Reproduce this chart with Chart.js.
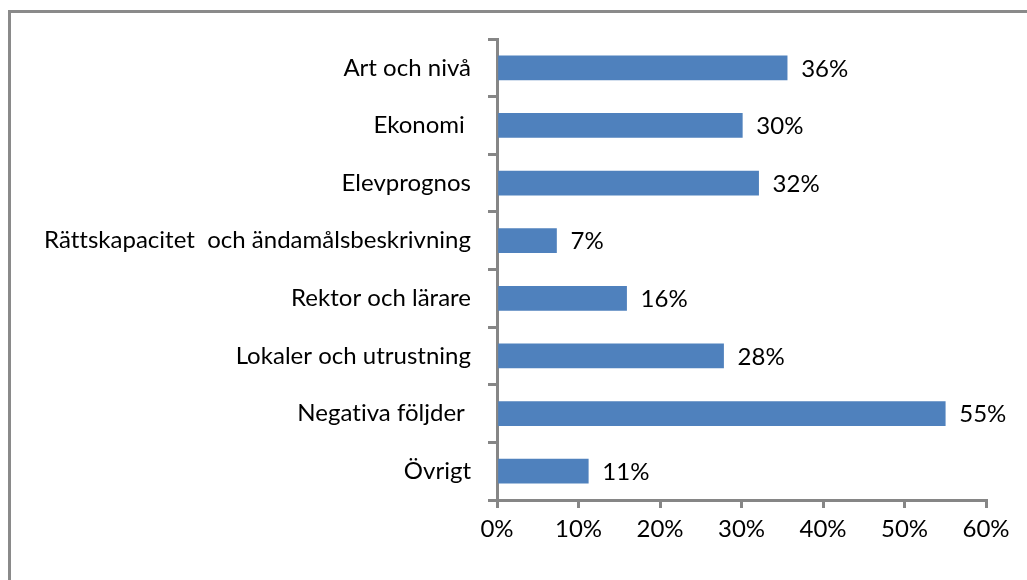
<!DOCTYPE html>
<html>
<head>
<meta charset="utf-8">
<script src="https://cdn.jsdelivr.net/npm/chart.js@4"></script>
<style>
  html, body { margin: 0; padding: 0; background: #fff; overflow: hidden; }
  #frame { position: absolute; left: 8px; top: 10px; width: 1100px; height: 700px;
           border-left: 3px solid #8a8a8a; border-top: 3px solid #8a8a8a; box-sizing: border-box; }
  #wrap { position: absolute; left: 0; top: 0; width: 1027px; height: 580px; }
</style>
</head>
<body>
<div id="frame"></div>
<div id="wrap"><canvas id="c" width="1027" height="580"></canvas></div>
<script>
const categories = [
  "Art och nivå",
  "Ekonomi ",
  "Elevprognos",
  "Rättskapacitet  och ändamålsbeskrivning",
  "Rektor och lärare",
  "Lokaler och utrustning",
  "Negativa följder ",
  "Övrigt"
];
const values = [35.6, 30.1, 32.1, 7.3, 15.9, 27.8, 55.0, 11.2];
const valueLabels = ["36%", "30%", "32%", "7%", "16%", "28%", "55%", "11%"];
const xTicks = [0, 10, 20, 30, 40, 50, 60];

const FONT = "Lato";
const FS = 24;
const AXIS = "#868686";

const noLigaturePlugin = {
  id: "noLig",
  beforeDraw(chart) { chart.ctx.letterSpacing = "0.01px"; }
};

const valueLabelPlugin = {
  id: "valueLabels",
  afterDatasetsDraw(chart) {
    const ctx = chart.ctx;
    const meta = chart.getDatasetMeta(0);
    ctx.save();
    ctx.font = FS + "px " + FONT;
    ctx.fillStyle = "#000";
    ctx.textAlign = "left";
    ctx.textBaseline = "middle";
    meta.data.forEach((bar, i) => {
      ctx.fillText(valueLabels[i], bar.x + 14, bar.y + 1);
    });
    ctx.restore();
  }
};

new Chart(document.getElementById("c"), {
  type: "bar",
  data: {
    labels: categories,
    datasets: [{
      data: values,
      backgroundColor: "#4f81bd",
      borderWidth: 0,
      barThickness: 24
    }]
  },
  options: {
    indexAxis: "y",
    responsive: false,
    animation: false,
    events: [],
    layout: { padding: { top: 39, right: 41, left: 0, bottom: 0 } },
    plugins: { legend: { display: false }, tooltip: { enabled: false } },
    scales: {
      x: {
        min: 0, max: 60,
        afterBuildTicks(scale) { scale.ticks = xTicks.map(v => ({ value: v })); },
        afterFit(scale) { scale.height = 80; },
        border: { display: true, color: AXIS, width: 3 },
        grid: { drawOnChartArea: false, drawTicks: true, tickLength: 8, color: AXIS, lineWidth: 3 },
        ticks: {
          color: "#000", font: { family: FONT, size: FS }, padding: 7,
          callback: v => v + "%"
        }
      },
      y: {
        offset: true,
        afterFit(scale) { scale.width = 497; },
        border: { display: true, color: AXIS, width: 3 },
        grid: { offset: true, drawOnChartArea: false, drawTicks: true, tickLength: 9, color: AXIS, lineWidth: 3 },
        ticks: { color: "#000", font: { family: FONT, size: FS }, padding: 17 }
      }
    }
  },
  plugins: [noLigaturePlugin, valueLabelPlugin]
});
</script>
</body>
</html>
